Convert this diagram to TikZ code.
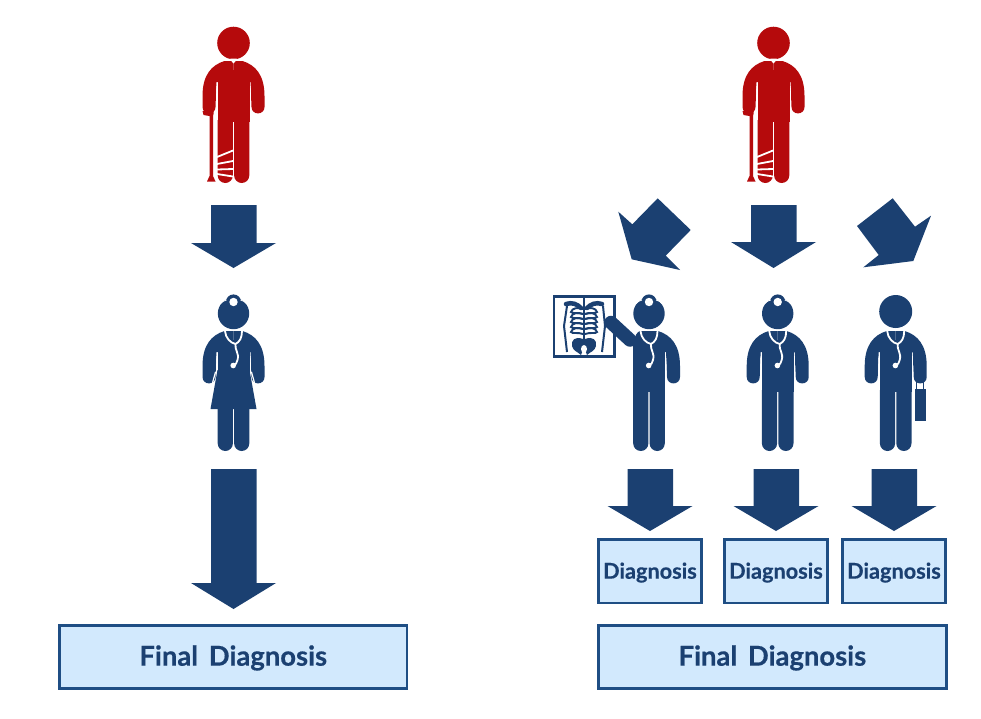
\documentclass[tikz,border=0pt]{standalone}
\usepackage{fontspec}
\setmainfont[BoldFeatures={FakeBold=0.5}]{Lato}
\definecolor{navy}{HTML}{1B4071}
\definecolor{crim}{HTML}{B50A0C}
\definecolor{boxfill}{HTML}{D2E9FD}
\definecolor{boxline}{HTML}{1F4E84}
\newcommand{\lowtext}[1]{\raisebox{-2pt}[0.7em][0.2em]{#1}}
\tikzset{
  gapline/.style={draw=white,line width=0.8pt},
  scope line/.style={draw=white,line width=2pt,line cap=round},
  dxbox/.style={draw=boxline,line width=2.8pt,fill=boxfill,text=navy,font=\bfseries\fontsize{21.7}{24}\selectfont,inner sep=0pt,outer sep=0pt,anchor=north west,minimum width=102.7pt,minimum height=63.5pt},
  finalbox/.style={draw=boxline,line width=2.8pt,fill=boxfill,text=navy,font=\bfseries\fontsize{27.4}{30}\selectfont,inner sep=0pt,outer sep=0pt,anchor=north west,minimum width=347.5pt,minimum height=63pt}
}
\newcommand{\rightarm}[1]{%
  \fill[#1] (9,331) .. controls (22,335) and (31,345) .. (31,366) -- (31,377)
     .. controls (31,385.5) and (18,385.5) .. (18,377) -- (17,352) -- (0,352) -- (0,331) -- cycle;
  \draw[gapline] (16.8,356) -- (17,384);
}
\newcommand{\leftarm}[1]{%
  \fill[#1] (-9,331) .. controls (-22,335) and (-31,345) .. (-31,366) -- (-31,377)
     .. controls (-31,385.5) and (-18,385.5) .. (-18,377) -- (-17,352) -- (0,352) -- (0,331) -- cycle;
  \draw[gapline] (-16.8,356) -- (-17,384);
}
\newcommand{\trunk}[2]{% colour, foot y
  \fill[#1] (-16,340) rectangle (16,392);
  \fill[#1] (-15.8,390) -- (-15.8,#2-7.6) arc[start angle=180,end angle=0,radius=7.6] -- (-0.6,390) -- cycle;
  \fill[#1] (0.6,390) -- (0.6,#2-7.6) arc[start angle=180,end angle=0,radius=7.6] -- (15.8,390) -- cycle;
}
\newcommand{\steth}{%
  \draw[scope line,line width=1.8pt] (-8.5,331) .. controls (-8,338) and (-3,343) .. (2,344);
  \draw[scope line,line width=1.8pt] (8.5,331) .. controls (8.5,338) and (6,342) .. (2,344)
     .. controls (1,350) and (6,353) .. (4,360) .. controls (3.5,363) and (2,365) .. (0,365);
  \fill[white] (-0.3,365.5) circle (2.8);
}
\newcommand{\lamphead}{%
  \fill[navy] (0,313.5) circle (15.7);
  \fill[navy] (0,302) circle (7.6);
  \fill[white] (0,302) circle (4.2);
  \draw[gapline] (-13.5,304) .. controls (-11,301.5) and (-9.5,300.5) .. (-7,300);
  \draw[gapline] (13.5,304) .. controls (11,301.5) and (9.5,300.5) .. (7,300);
}
\newcommand{\doctorbody}{\rightarm{navy}\leftarm{navy}\trunk{navy}{451}\steth}
\begin{document}
\begin{tikzpicture}[x=1pt,y=-1pt]
\useasboundingbox (0,0) rectangle (981,718);

% --- patients
\foreach \cx in {233.5,773.5}{
\begin{scope}[shift={(\cx,-270)}]
  \fill[crim] (0,313) circle (16.3);
  \rightarm{crim}\leftarm{crim}
  \trunk{crim}{453}
  \fill[white] (-3.5,329.5) -- (0,333.5) -- (3.5,329.5) -- (3,328.5) -- (-3,328.5) -- cycle;
  % crutch
  \fill[crim] (-31,381) -- (-20,381) -- (-20,384) -- (-20.5,386) -- (-20.5,446) -- (-18,451.5) -- (-26.5,451.5) -- (-24,446) -- (-24,386) -- (-30,385) -- cycle;
  % bandage
  \draw[white,line width=1.8pt] (-16.5,427) -- (-0.5,420.5);
  \draw[white,line width=1.8pt] (-16.5,434) -- (-0.5,431);
  \draw[white,line width=1.8pt] (-16.5,439.5) -- (-0.5,439);
  \draw[white,line width=1.8pt] (-16.5,444) -- (-0.5,446.5);
\end{scope}}

% --- female doctor
\begin{scope}[shift={(233.5,0)}]
  \leftarm{navy}\rightarm{navy}
  \trunk{navy}{451}
  \fill[navy] (-16,370) -- (16,370) -- (23,409) -- (-23,409) -- cycle;
  \draw[gapline,line width=1.2pt] (-18,372) -- (-23.5,392);
  \draw[gapline,line width=1.2pt] (18,372) -- (23.5,392);
  \steth
  \lamphead
\end{scope}

% X-ray film
\draw[navy,line width=2.6pt,fill=white] (554,296.3) rectangle (614.5,356.5);
% spine
\draw[navy,line width=2pt] (584,298) -- (584,345);
% shoulders
\draw[navy,line width=4.5pt,line cap=round] (566,304) .. controls (572,302) and (577,304) .. (581,308);
\draw[navy,line width=4.5pt,line cap=round] (602,304) .. controls (596,302) and (591,304) .. (587,308);
% arm bones
\draw[navy,line width=2pt] (567,306) -- (564,326) -- (567,352);
\draw[navy,line width=2pt] (603,306) -- (605,326) -- (602,352);
% ribs
\foreach \y in {309,314,319,324,329}{
  \draw[navy,line width=1.9pt] (583,\y) .. controls (578,\y-2) and (572,\y-1) .. (571,\y+3) .. controls (572,\y+5) and (578,\y+3) .. (583,\y+5);
  \draw[navy,line width=1.9pt] (585,\y) .. controls (590,\y-2) and (596,\y-1) .. (597,\y+3) .. controls (596,\y+5) and (590,\y+3) .. (585,\y+5);
}
% pelvis
\fill[navy] (583,339) .. controls (575,336) and (571,340) .. (572,346) .. controls (573,351) and (578,352) .. (581,355) -- (584,347) -- cycle;
\fill[navy] (585,339) .. controls (593,336) and (597,340) .. (596,346) .. controls (595,351) and (590,352) .. (587,355) -- (584,347) -- cycle;
\fill[white] (584,349) ellipse (3 and 4);

% --- doctor with X-ray
\begin{scope}[shift={(649,0)}]
  \rightarm{navy}
  \fill[navy] (-9,331) -- (0,331) -- (0,352) -- (-16,352) -- (-16,345) .. controls (-14,335) and (-12,332) .. (-9,331) -- cycle;
  \draw[navy,line width=13.5pt,line cap=round] (-38,322.5) -- (-19,340);
  \trunk{navy}{451}
  \steth
  \lamphead
\end{scope}

% --- doctor, head lamp
\begin{scope}[shift={(777.7,0)}]
  \doctorbody
  \lamphead
\end{scope}

% --- doctor with briefcase
\begin{scope}[shift={(895.7,0)}]
  \doctorbody
  \fill[navy] (0,311.5) circle (16.5);
  \fill[navy] (19,389) rectangle (30,420.5);
  \draw[navy,line width=1.2pt] (21,381) -- (21,389) (28,381) -- (28,389);
\end{scope}

% --- arrows
\foreach \cx/\t/\n/\e in {233.5/205/243/268, 773.5/205/242/268, 650/469/506/531, 776/469/506/531, 894/469/506/531, 233.5/469/583/609}{
  \fill[navy] (\cx-22.5,\t) -- (\cx+23,\t) -- (\cx+23,\n) -- (\cx+42.5,\n) -- (\cx,\e) -- (\cx-42.5,\n) -- (\cx-22.5,\n) -- cycle;
}
\fill[navy] (657.7,198.3) -- (690.7,230) -- (665.7,255.7) -- (680,270) -- (631.7,259.3) -- (618.3,211.7) -- (632.3,224.3) -- cycle;
\fill[navy] (892.7,198.3) -- (915,226.7) -- (931,215.7) -- (913.3,261) -- (863.3,267.3) -- (878.7,255) -- (857,226) -- cycle;

% --- boxes
\node[dxbox] (d1) at (598.6,539.5) {\lowtext{Diagnosis}};
\node[dxbox] (d2) at (724.6,539.5) {\lowtext{Diagnosis}};
\node[dxbox] (d3) at (842.6,539.5) {\lowtext{Diagnosis}};
\node[finalbox] (f1) at (59.5,625.3) {\lowtext{Final\hspace{0.15em} Diagnosis}};
\node[finalbox] (f2) at (598.6,625.3) {\lowtext{Final\hspace{0.15em} Diagnosis}};
\end{tikzpicture}
\end{document}
